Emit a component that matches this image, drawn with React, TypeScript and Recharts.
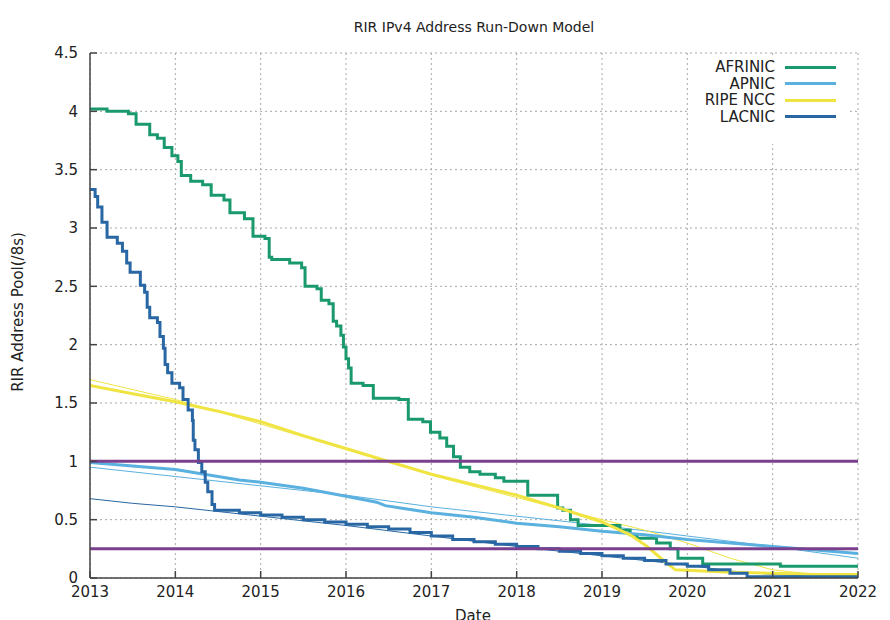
import { LineChart, Line, XAxis, YAxis, CartesianGrid, ReferenceLine } from 'recharts'

// x positions are fractional years, values are /8s left in the pool
const years = [2013, 2014, 2015, 2016, 2017, 2018, 2019, 2020, 2021, 2022]
const poolTicks = [0, 0.5, 1, 1.5, 2, 2.5, 3, 3.5, 4, 4.5]
const thresholds = [1, 0.25]

const afrinicT = [2013.0, 2013.2, 2013.45, 2013.54, 2013.7, 2013.79, 2013.87, 2013.96, 2014.03, 2014.07, 2014.18, 2014.32, 2014.42, 2014.57, 2014.64, 2014.81, 2014.91, 2015.05, 2015.1, 2015.13, 2015.34, 2015.48, 2015.52, 2015.66, 2015.71, 2015.8, 2015.85, 2015.89, 2015.94, 2015.97, 2016.0, 2016.03, 2016.06, 2016.2, 2016.32, 2016.62, 2016.73, 2016.9, 2016.99, 2017.1, 2017.18, 2017.26, 2017.34, 2017.45, 2017.57, 2017.75, 2017.85, 2018.13, 2018.48, 2018.54, 2018.63, 2018.72, 2019.21, 2019.33, 2019.41, 2019.64, 2019.8, 2019.89, 2020.18, 2021.09, 2022.0]
const afrinicV = [4.02, 4.0, 3.98, 3.89, 3.8, 3.77, 3.69, 3.62, 3.57, 3.45, 3.4, 3.37, 3.28, 3.24, 3.13, 3.08, 2.93, 2.91, 2.75, 2.73, 2.7, 2.66, 2.5, 2.48, 2.38, 2.35, 2.2, 2.16, 2.08, 1.98, 1.88, 1.8, 1.67, 1.65, 1.54, 1.53, 1.36, 1.34, 1.25, 1.2, 1.13, 1.04, 0.95, 0.91, 0.89, 0.86, 0.83, 0.71, 0.6, 0.58, 0.5, 0.45, 0.41, 0.37, 0.34, 0.3, 0.25, 0.17, 0.12, 0.1, 0.1]

const apnicT = [2013.0, 2013.5, 2014.0, 2014.5, 2014.75, 2015.0, 2015.5, 2016.0, 2016.36, 2016.46, 2017.0, 2017.5, 2018.0, 2018.5, 2019.0, 2019.5, 2020.0, 2020.5, 2021.0, 2021.5, 2022.0]
const apnicV = [0.99, 0.96, 0.93, 0.87, 0.84, 0.82, 0.77, 0.7, 0.65, 0.62, 0.56, 0.52, 0.47, 0.44, 0.4, 0.37, 0.33, 0.3, 0.27, 0.24, 0.21]
const apnicModelT = [2013, 2014, 2015, 2016, 2017, 2018, 2019, 2020, 2021, 2022]
const apnicModelV = [0.95, 0.87, 0.79, 0.71, 0.61, 0.53, 0.45, 0.36, 0.27, 0.17]

const ripeT = [2013.0, 2013.5, 2014.0, 2014.5, 2015.0, 2015.5, 2016.0, 2016.5, 2017.0, 2017.5, 2018.0, 2018.5, 2019.0, 2019.33, 2019.53, 2019.72, 2019.86, 2020.5, 2021.0, 2021.5, 2022.0]
const ripeV = [1.65, 1.58, 1.51, 1.43, 1.34, 1.22, 1.11, 1.0, 0.89, 0.8, 0.71, 0.6, 0.48, 0.37, 0.27, 0.15, 0.07, 0.05, 0.04, 0.03, 0.03]
const ripeModelT = [2013.0, 2014.0, 2015.0, 2016.0, 2017.0, 2018.0, 2019.0, 2019.5, 2020.0, 2020.5, 2021.0, 2021.5, 2022.0]
const ripeModelV = [1.7, 1.53, 1.32, 1.1, 0.88, 0.69, 0.5, 0.41, 0.3, 0.17, 0.07, 0.03, 0.02]

const lacnicT = [2013.0, 2013.06, 2013.09, 2013.14, 2013.2, 2013.32, 2013.38, 2013.43, 2013.47, 2013.59, 2013.64, 2013.67, 2013.7, 2013.79, 2013.82, 2013.86, 2013.88, 2013.91, 2013.96, 2014.05, 2014.09, 2014.15, 2014.2, 2014.21, 2014.23, 2014.27, 2014.31, 2014.35, 2014.38, 2014.43, 2014.46, 2014.75, 2015.0, 2015.25, 2015.5, 2015.75, 2016.0, 2016.25, 2016.5, 2016.75, 2017.0, 2017.25, 2017.5, 2017.75, 2018.0, 2018.25, 2018.5, 2018.75, 2019.0, 2019.25, 2019.5, 2019.75, 2020.0, 2020.25, 2020.5, 2020.7, 2022.0]
const lacnicV = [3.33, 3.27, 3.18, 3.05, 2.92, 2.87, 2.8, 2.7, 2.62, 2.51, 2.45, 2.32, 2.23, 2.19, 2.07, 1.97, 1.83, 1.76, 1.67, 1.63, 1.53, 1.44, 1.35, 1.18, 1.1, 0.99, 0.91, 0.82, 0.74, 0.63, 0.58, 0.56, 0.54, 0.52, 0.5, 0.48, 0.46, 0.44, 0.42, 0.39, 0.36, 0.33, 0.31, 0.29, 0.27, 0.25, 0.23, 0.21, 0.19, 0.17, 0.15, 0.12, 0.1, 0.07, 0.04, 0.01, 0.01]
const lacnicModelT = [2013.0, 2013.5, 2014.0, 2014.5, 2015.0, 2016.0, 2017.0, 2018.0, 2019.0, 2020.0, 2020.5, 2021.0, 2022.0]
const lacnicModelV = [0.68, 0.64, 0.61, 0.57, 0.53, 0.45, 0.36, 0.27, 0.19, 0.11, 0.06, 0.03, 0.0]

const zip = (t: number[], v: number[]) => t.map((x, i) => ({ t: x, v: v[i] }))

const series = [
  { name: 'AFRINIC', color: '#1a9a6c' },
  { name: 'APNIC', color: '#5ab0de' },
  { name: 'RIPE NCC', color: '#f0e442' },
  { name: 'LACNIC', color: '#2867a3' },
]

const font = '"DejaVu Sans", sans-serif'
const tickStyle = { fontSize: 15, fill: '#222', fontFamily: font }

function KeyBox() {
  return (
    <div style={{ position: 'absolute', left: 690, top: 56, width: 158, height: 88, paddingTop: 3, boxSizing: 'border-box', background: '#fff', fontFamily: font, fontSize: 15, color: '#222' }}>
      {series.map(s => (
        <div key={s.name} style={{ display: 'flex', alignItems: 'center', height: 16.5 }}>
          <span style={{ width: 85, textAlign: 'right', lineHeight: '16px' }}>{s.name}</span>
          <span style={{ display: 'inline-block', marginLeft: 10, width: 51, height: 3, background: s.color }} />
        </div>
      ))}
    </div>
  )
}

export default function App() {
  return (
    <div style={{ position: 'absolute', left: 0, top: 0, width: 890, height: 620, background: '#fff', overflow: 'hidden' }}>
      <LineChart width={890} height={620} margin={{ top: 53, right: 32, bottom: 0, left: 0 }}>
        <CartesianGrid stroke="#a8a8a8" strokeDasharray="2 3" />
        <XAxis type="number" dataKey="t" domain={[2013, 2022]} ticks={years} allowDataOverflow
          height={42} tickSize={-7} tickMargin={15} stroke="#444" strokeWidth={1.5} tick={tickStyle} />
        <XAxis xAxisId="top" orientation="top" type="number" dataKey="t" domain={[2013, 2022]} ticks={years}
          height={0} tickSize={-7} tickFormatter={() => ''} stroke="#444" strokeWidth={1.5} />
        <YAxis type="number" domain={[0, 4.5]} ticks={poolTicks} allowDataOverflow
          width={90} tickSize={-7} tickMargin={19} stroke="#444" strokeWidth={1.5} tick={tickStyle} />
        <YAxis yAxisId="right" orientation="right" type="number" domain={[0, 4.5]} ticks={poolTicks}
          width={0} tickSize={-7} tickFormatter={() => ''} stroke="#444" strokeWidth={1.5} />

        <Line data={zip(apnicModelT, apnicModelV)} dataKey="v" stroke="#5ab0de" strokeWidth={1} dot={false} activeDot={false} isAnimationActive={false} />
        <Line data={zip(ripeModelT, ripeModelV)} dataKey="v" stroke="#f0e442" strokeWidth={1} dot={false} activeDot={false} isAnimationActive={false} />
        <Line data={zip(lacnicModelT, lacnicModelV)} dataKey="v" stroke="#2867a3" strokeWidth={1} dot={false} activeDot={false} isAnimationActive={false} />

        <Line name="AFRINIC" type="stepAfter" data={zip(afrinicT, afrinicV)} dataKey="v" stroke="#1a9a6c" strokeWidth={3} dot={false} activeDot={false} isAnimationActive={false} />
        <Line name="APNIC" data={zip(apnicT, apnicV)} dataKey="v" stroke="#5ab0de" strokeWidth={3} dot={false} activeDot={false} isAnimationActive={false} />
        <Line name="RIPE NCC" data={zip(ripeT, ripeV)} dataKey="v" stroke="#f0e442" strokeWidth={3} dot={false} activeDot={false} isAnimationActive={false} />
        <Line name="LACNIC" type="stepAfter" data={zip(lacnicT, lacnicV)} dataKey="v" stroke="#2867a3" strokeWidth={3} dot={false} activeDot={false} isAnimationActive={false} />

        {thresholds.map(y => (
          <ReferenceLine key={y} y={y} stroke="#7a3f8d" strokeWidth={3} />
        ))}
      </LineChart>
      <KeyBox />
      <div style={{ position: 'absolute', left: 474, top: 19, transform: 'translateX(-50%)', fontFamily: font, fontSize: 14, color: '#222', whiteSpace: 'nowrap' }}>
        RIR IPv4 Address Run-Down Model
      </div>
      <div style={{ position: 'absolute', left: 18, top: 312, transform: 'translate(-50%, -50%) rotate(-90deg)', fontFamily: font, fontSize: 15, color: '#222', whiteSpace: 'nowrap' }}>
        RIR Address Pool(/8s)
      </div>
      <div style={{ position: 'absolute', left: 473, top: 607, transform: 'translateX(-50%)', fontFamily: font, fontSize: 15, color: '#222' }}>
        Date
      </div>
    </div>
  )
}
